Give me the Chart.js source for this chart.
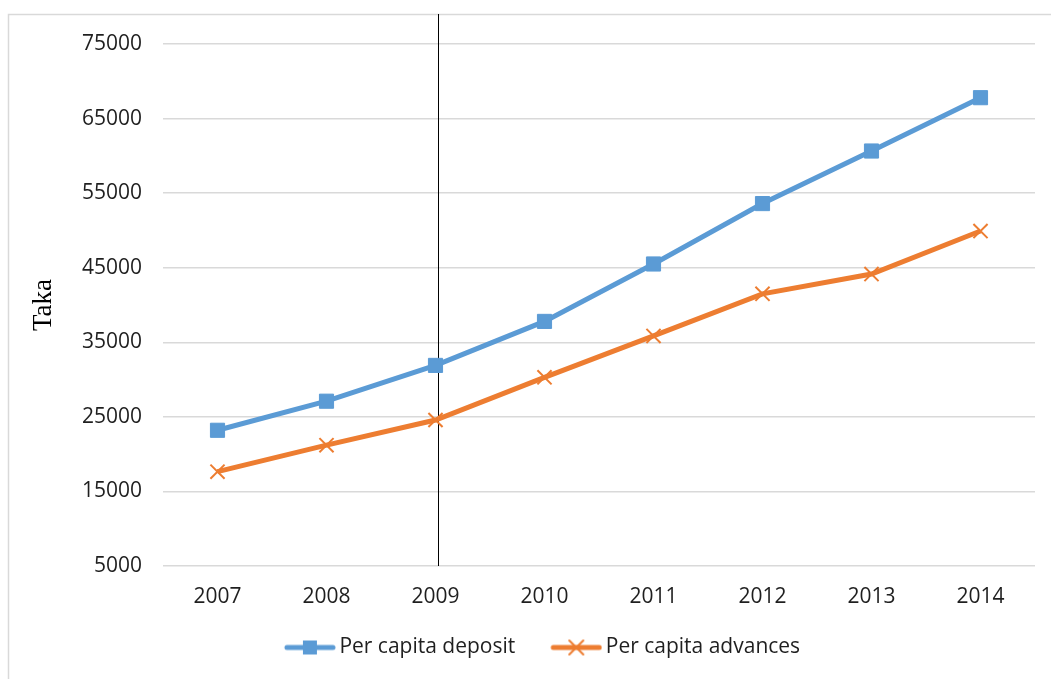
<!DOCTYPE html>
<html>
<head>
<meta charset="utf-8">
<script src="https://cdn.jsdelivr.net/npm/chart.js@4"></script>
<style>
  html, body { margin: 0; padding: 0; background: #fff; }
  #wrap { width: 1051px; height: 679px; }
</style>
</head>
<body>
<div id="wrap"><canvas id="perCapita" width="1051" height="679"></canvas></div>
<script>
const years = ["2007", "2008", "2009", "2010", "2011", "2012", "2013", "2014"];
const deposit = [23200, 27100, 31900, 37800, 45500, 53600, 60650, 67800];
const advances = [17650, 21200, 24580, 30300, 35850, 41500, 44150, 49920];
const markedYear = "2009";

const blue = "#5B9BD5";
const orange = "#ED7D31";
const textColor = "#1f1f1f";
const tickFont = { family: "Open Sans", size: 21 };

// legend swatch: line with the marker in the middle, drawn right-aligned
function swatch(color, marker) {
  const c = document.createElement("canvas");
  c.width = 80;
  c.height = 20;
  const g = c.getContext("2d");
  const x0 = 28, x1 = 80, cx = 54, cy = 10;
  g.strokeStyle = color;
  g.lineCap = "round";
  g.lineWidth = 5;
  g.beginPath();
  g.moveTo(x0 + 3, cy);
  g.lineTo(x1 - 3, cy);
  g.stroke();
  if (marker === "rect") {
    g.fillStyle = color;
    g.fillRect(cx - 7, cy - 7, 14, 14);
  } else {
    g.lineWidth = 2;
    g.beginPath();
    g.moveTo(cx - 7, cy - 7);
    g.lineTo(cx + 7, cy + 7);
    g.moveTo(cx + 7, cy - 7);
    g.lineTo(cx - 7, cy + 7);
    g.stroke();
  }
  return c;
}

const frame = {
  id: "frame",
  beforeDraw(chart) {
    const g = chart.ctx;
    g.save();
    g.strokeStyle = "#d9d9d9";
    g.lineWidth = 1.5;
    g.strokeRect(8.5, 14.5, 1100, 700);
    g.restore();
  },
  beforeDatasetsDraw(chart) {
    const g = chart.ctx;
    const x = Math.round(chart.scales.x.getPixelForValue(years.indexOf(markedYear))) + 2.5;
    g.save();
    g.strokeStyle = "#000";
    g.lineWidth = 1;
    g.beginPath();
    g.moveTo(x, 14);
    g.lineTo(x, chart.chartArea.bottom);
    g.stroke();
    g.restore();
  },
};

new Chart(document.getElementById("perCapita"), {
  type: "line",
  data: {
    labels: years,
    datasets: [
      {
        label: "Per capita deposit",
        data: deposit,
        borderColor: blue,
        backgroundColor: blue,
        borderWidth: 5,
        pointStyle: "rect",
        pointRadius: 10,
        pointBorderWidth: 1,
        tension: 0,
      },
      {
        label: "Per capita advances",
        data: advances,
        borderColor: orange,
        backgroundColor: orange,
        borderWidth: 5,
        pointStyle: "crossRot",
        pointRadius: 10,
        pointBorderWidth: 2,
        tension: 0,
      },
    ],
  },
  options: {
    responsive: false,
    animation: false,
    layout: { padding: { left: 28, right: 16, top: 44, bottom: 11 } },
    scales: {
      x: {
        offset: true,
        grid: { display: false },
        border: { display: false },
        ticks: { font: tickFont, color: textColor, padding: 10 },
        afterFit(s) { s.height = 57; },
      },
      y: {
        min: 5000,
        max: 75000,
        ticks: {
          stepSize: 10000,
          font: tickFont,
          color: textColor,
          padding: 21,
          callback: (v) => String(v),
        },
        grid: { color: "#d9d9d9", lineWidth: 1.5, drawTicks: false },
        border: { display: false },
        title: {
          display: true,
          text: "Taka",
          font: { family: "Liberation Serif", size: 27 },
          color: "#000",
          padding: 0,
        },
        afterFit(s) { s.width = 135; },
      },
    },
    plugins: {
      tooltip: { enabled: false },
      legend: {
        position: "bottom",
        labels: {
          usePointStyle: true,
          pointStyleWidth: 66,
          padding: 14,
          font: tickFont,
          color: textColor,
          generateLabels(chart) {
            return chart.data.datasets.map((ds, i) => ({
              text: ds.label,
              pointStyle: swatch(ds.borderColor, ds.pointStyle),
              fillStyle: ds.borderColor,
              strokeStyle: ds.borderColor,
              lineWidth: 0,
              fontColor: textColor,
              datasetIndex: i,
            }));
          },
        },
      },
    },
  },
  plugins: [frame],
});
</script>
</body>
</html>
